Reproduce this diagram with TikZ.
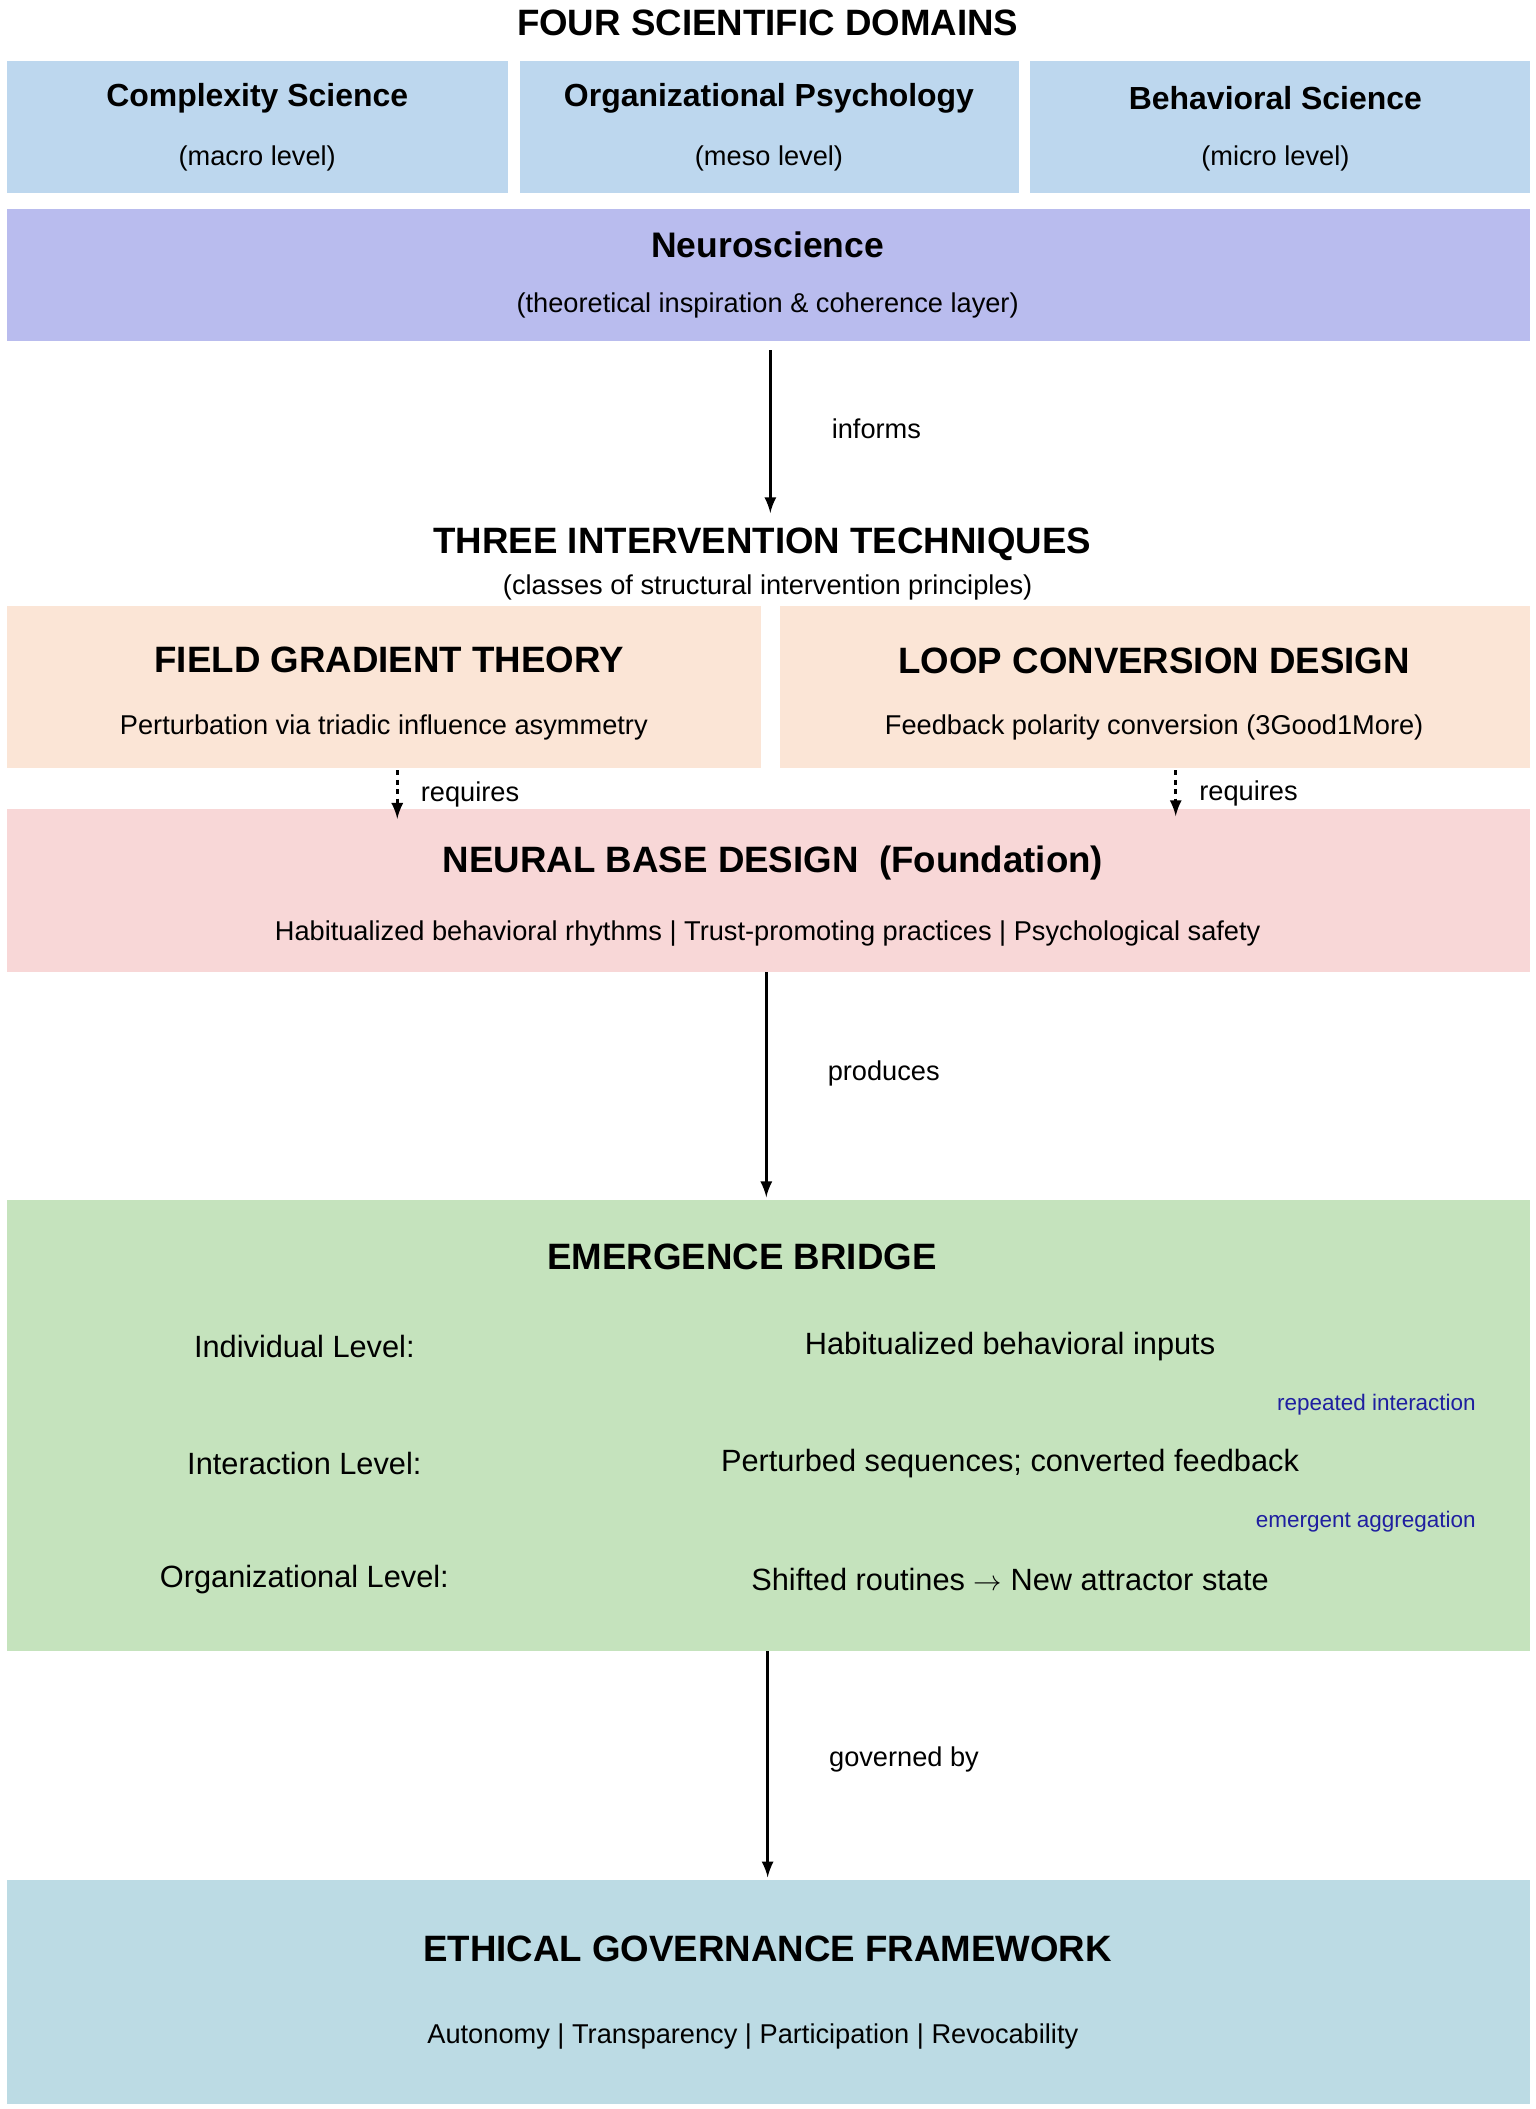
\documentclass[tikz,border=0pt]{standalone}
\usepackage{fontspec}
\setmainfont{Liberation Sans}
\usetikzlibrary{positioning}
\definecolor{domblue}{HTML}{BDD7EE}
\definecolor{neuro}{HTML}{B9BCEE}
\definecolor{peach}{HTML}{FBE5D6}
\definecolor{pinkbox}{HTML}{F8D7D7}
\definecolor{greenbox}{HTML}{C5E3BD}
\definecolor{govbox}{HTML}{BCDBE4}
\definecolor{annot}{HTML}{1F1FA0}
\tikzset{
  box/.style={draw=none, inner sep=0pt},
  ttl/.style={font=\bfseries\fontsize{13.5}{15}\selectfont},
  big/.style={font=\bfseries\fontsize{15.5}{18}\selectfont},
  sub/.style={font=\fontsize{11.5}{13}\selectfont},
  row/.style={font=\fontsize{13}{15}\selectfont},
  note/.style={font=\fontsize{9.5}{11}\selectfont, text=annot, anchor=east},
  flow/.style={-latex, line width=1.3pt},
  dots/.style={-latex, line width=1.3pt, dash pattern=on 2pt off 2pt}
}
\begin{document}
\begin{tikzpicture}[x=0.02cm, y=-0.02cm]
  \useasboundingbox (0,0) rectangle (1140,1566);
  % domains
  \node[big] (head1) at (570,17) {FOUR SCIENTIFIC DOMAINS};
  \fill[domblue] (5,45) rectangle (377,143);
  \fill[domblue] (386,45) rectangle (757,143);
  \fill[domblue] (765,45) rectangle (1136,143);
  \node[ttl] (cs) at (191,73) {Complexity Science};
  \node[sub] at (191,118) {(macro level)};
  \node[ttl] (op) at (571,73) {Organizational Psychology};
  \node[sub] at (571,118) {(meso level)};
  \node[ttl] (bs) at (947,73) {Behavioral Science};
  \node[sub] at (947,118) {(micro level)};
  % neuroscience
  \fill[neuro] (5,155) rectangle (1136,253);
  \coordinate (neuroB) at (572,260);
  \node[ttl, font=\bfseries\fontsize{15}{17}\selectfont] (neuro) at (570,182) {Neuroscience};
  \node[sub] at (570,227) {(theoretical inspiration \& coherence layer)};
  % techniques
  \node[big] (head2) at (566,404) {THREE INTERVENTION TECHNIQUES};
  \node[sub] at (570,436) {(classes of structural intervention principles)};
  \draw[flow] (neuroB) -- (572,381) node[pos=0.48, right=22pt, sub] {informs};
  \fill[peach] (5,450) rectangle (565,570);
  \fill[peach] (579,450) rectangle (1136,570);
  \node[big] (fgt) at (289,490) {FIELD GRADIENT THEORY};
  \node[sub] at (285,540) {Perturbation via triadic influence asymmetry};
  \node[big] (lcd) at (857,491) {LOOP CONVERSION DESIGN};
  \node[sub] at (857,540) {Feedback polarity conversion (3Good1More)};
  % neural base
  \fill[pinkbox] (5,601) rectangle (1136,722);
  \node[big] (nbd) at (574,641) {NEURAL BASE DESIGN\ \ (Foundation)};
  \node[sub] at (570,693) {Habitualized behavioral rhythms | Trust-promoting practices | Psychological safety};
  \draw[dots] (295,572) -- (295,608) node[midway, right=6pt, sub] {requires};
  \draw[dots] (873,572) -- (873,606) node[midway, right=6pt, sub] {requires};
  % emergence
  \fill[greenbox] (5,891) rectangle (1136,1226);
  \draw[flow] (569,722) -- (569,889) node[pos=0.45, right=22pt, sub] {produces};
  \node[big] (eb) at (551,933) {EMERGENCE BRIDGE};
  \node[row] (lv1) at (226,1000) {Individual Level:};
  \node[row] (lv2) at (226,1087) {Interaction Level:};
  \node[row] (lv3) at (226,1173) {Organizational Level:};
  \node[row] at (750,1000) {Habitualized behavioral inputs};
  \node[row] at (750,1087) {Perturbed sequences; converted feedback};
  \node[row] at (750,1173) {Shifted routines $\rightarrow$ New attractor state};
  \node[note] at (1102,1043) {repeated interaction};
  \node[note] at (1102,1130) {emergent aggregation};
  % governance
  \fill[govbox] (5,1396) rectangle (1136,1562);
  \draw[flow] (570,1226) -- (570,1394) node[pos=0.48, right=22pt, sub] {governed by};
  \node[big] (egf) at (570,1447) {ETHICAL GOVERNANCE FRAMEWORK};
  \node[sub] at (559,1512) {Autonomy | Transparency | Participation | Revocability};
\end{tikzpicture}
\end{document}
